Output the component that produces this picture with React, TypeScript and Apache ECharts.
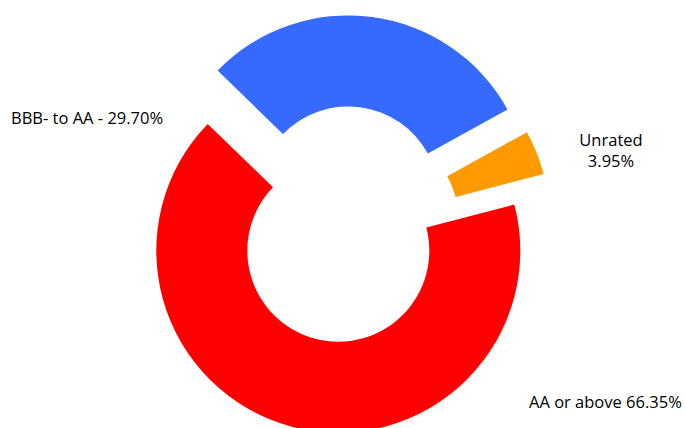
import React, { useEffect, useRef } from "react";
import * as echarts from "echarts";

const categories = ["AA or above", "BBB- to AA", "Unrated"];
const values = [66.35, 29.7, 3.95];
const colors = ["#FF0000", "#366AFF", "#FF9A00"];

const FONT = "'Open Sans', 'Noto Sans', sans-serif";

// per-slice layout (pixels): pie centre, label placement
const centers: [number, number][] = [
  [338.3, 250.7],
  [348.2, 197.4],
  [367.6, 220.2],
];
const labelPos = [
  { x: 529, y: 401, align: "left" },
  { x: 11, y: 117, align: "left" },
  { x: 611, y: 150, align: "center" },
];
const labelFormat = [
  (n: string, v: number) => `${n} ${v.toFixed(2)}%`,
  (n: string, v: number) => `${n} - ${v.toFixed(2)}%`,
  (n: string, v: number) => `${n}\n${v.toFixed(2)}%`,
];

export default function App() {
  const ref = useRef<HTMLDivElement>(null);
  useEffect(() => {
    if (!ref.current) return;
    const chart = echarts.init(ref.current, undefined, { renderer: "svg" });
    const series = categories.map((_, si) => ({
      type: "pie",
      radius: [91, 182],
      center: centers[si],
      startAngle: 14.7,
      clockwise: true,
      avoidLabelOverlap: false,
      silent: true,
      labelLine: { show: false },
      labelLayout: {
        x: labelPos[si].x,
        y: labelPos[si].y,
        align: labelPos[si].align,
        verticalAlign: "middle",
      },
      data: categories.map((name, di) => ({
        name,
        value: values[di],
        itemStyle: { color: colors[di], opacity: di === si ? 1 : 0 },
        label: {
          show: di === si,
          position: "outside",
          formatter: labelFormat[di](name, values[di]),
          color: "#000",
          fontFamily: FONT,
          fontSize: 16.5,
          lineHeight: 21,
          align: labelPos[si].align,
        },
      })),
    }));
    chart.setOption({
      animation: false,
      backgroundColor: "#fff",
      series,
    });
    return () => chart.dispose();
  }, []);
  return (
    <div
      ref={ref}
      style={{ position: "fixed", left: 0, top: 0, width: 685, height: 428 }}
    />
  );
}
